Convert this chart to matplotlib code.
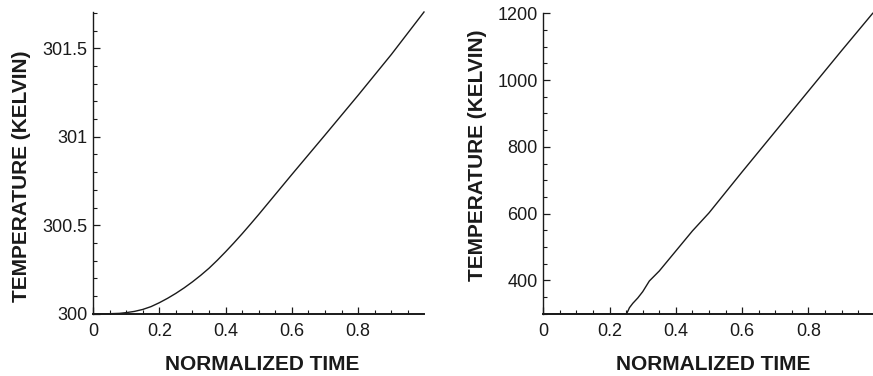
import matplotlib
matplotlib.use("Agg")
import matplotlib.pyplot as plt
from matplotlib.ticker import MultipleLocator, FormatStrFormatter

# Case A: small temperature rise
time_a = [0.0, 0.05, 0.08, 0.10, 0.125, 0.15, 0.175, 0.20, 0.225, 0.25,
          0.275, 0.30, 0.325, 0.35, 0.375, 0.40, 0.425, 0.45, 0.475, 0.50,
          0.55, 0.60, 0.70, 0.80, 0.90, 0.9985]
temp_a = [300.0, 300.0, 300.002, 300.006, 300.013, 300.024, 300.04, 300.062,
          300.087, 300.115, 300.146, 300.18, 300.217, 300.257, 300.302, 300.35,
          300.40, 300.452, 300.506, 300.561, 300.674, 300.787, 301.01, 301.235,
          301.465, 301.705]

# Case B: ignition-like rise after a delay
time_b = [0.0, 0.2515, 0.26, 0.27, 0.285, 0.30, 0.32, 0.35, 0.40, 0.45,
          0.50, 0.60, 0.70, 0.80, 0.90, 0.994]
temp_b = [300.0, 300.0, 318.0, 331.0, 347.0, 366.0, 398.0, 428.0, 488.0, 548.0,
          602.0, 725.0, 846.0, 967.0, 1088.0, 1200.0]

xticks = [0.0, 0.2, 0.4, 0.6, 0.8]

plt.rcParams['font.family'] = ['Liberation Sans', 'DejaVu Sans']
ink = '#1a1a1a'

fig = plt.figure(figsize=(8.73, 3.76), dpi=100)
ax1 = fig.add_axes([93 / 873, 1 - 313.7 / 376, 331 / 873, 301.7 / 376])
ax2 = fig.add_axes([543.3 / 873, 1 - 313.7 / 376, 329.4 / 873, 300.4 / 376])


def style(ax, xmax, ylim, ymaj, ymin):
    ax.set_xlim(0, xmax)
    ax.set_ylim(*ylim)
    for side in ('top', 'right'):
        ax.spines[side].set_visible(False)
    for side in ('left', 'bottom'):
        ax.spines[side].set_linewidth(1.0)
        ax.spines[side].set_color(ink)
    ax.spines['bottom'].set_linewidth(1.4)
    ax.set_xticks(xticks)
    ax.xaxis.set_minor_locator(MultipleLocator(0.05))
    ax.yaxis.set_major_locator(MultipleLocator(ymaj))
    ax.yaxis.set_minor_locator(MultipleLocator(ymin))
    ax.xaxis.set_major_formatter(FormatStrFormatter('%g'))
    ax.yaxis.set_major_formatter(FormatStrFormatter('%g'))
    ax.tick_params(which='both', direction='in', colors=ink, labelsize=13)
    ax.tick_params(which='major', length=5, width=0.9)
    ax.tick_params(which='minor', length=3, width=0.8)
    ax.tick_params(axis='x', which='major', pad=7)
    ax.tick_params(axis='y', which='major', pad=4)
    ax.set_xlabel('NORMALIZED TIME', fontsize=15, fontweight='bold', color=ink)
    ax.set_ylabel('TEMPERATURE (KELVIN)', fontsize=15, fontweight='bold', color=ink)


style(ax1, 0.9985, (300, 301.705), 0.5, 0.1)
ax1.plot(time_a, temp_a, color=ink, lw=1.0, clip_on=False)
ax1.xaxis.set_label_coords(0.512, -0.137)
ax1.yaxis.set_label_coords(-0.186, 0.456)

style(ax2, 0.994, (300, 1200), 200, 50)
ax2.plot(time_b, temp_b, color=ink, lw=1.0, clip_on=False)
ax2.xaxis.set_label_coords(0.516, -0.1375)
ax2.yaxis.set_label_coords(-0.171, 0.526)

fig.savefig('out.png', dpi=100)
